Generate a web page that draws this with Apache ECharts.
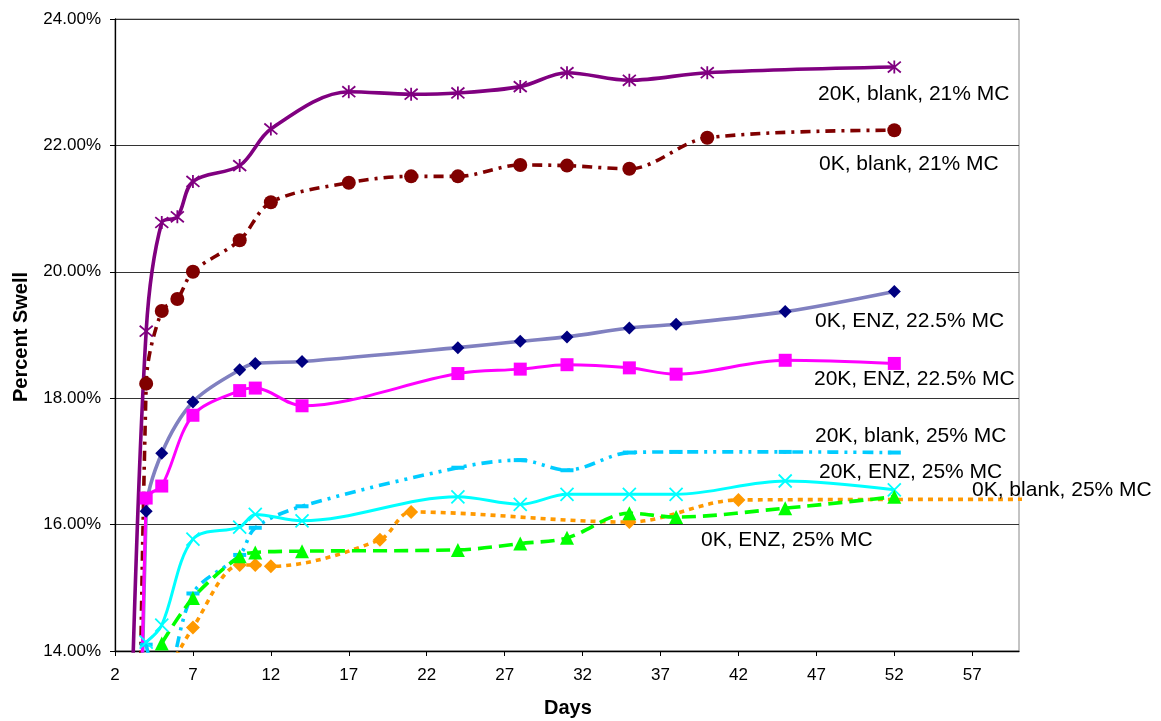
<!DOCTYPE html>
<html>
<head>
<meta charset="utf-8">
<script src="https://cdn.jsdelivr.net/npm/echarts@6/dist/echarts.min.js"></script>
<style>
html,body{margin:0;padding:0;background:#fff;}
#chart{width:1161px;height:721px;}
</style>
</head>
<body>
<div id="chart"></div>
<script>
// ---- data (day, percent swell) ----
const xTicks = [2, 7, 12, 17, 22, 27, 32, 37, 42, 47, 52, 57];
const yTicks = [14, 16, 18, 20, 22, 24];

const names = [
  '20K, blank, 21% MC',
  '0K, blank, 21% MC',
  '0K, ENZ, 22.5% MC',
  '20K, ENZ, 22.5% MC',
  '20K, blank, 25% MC',
  '20K, ENZ, 25% MC',
  '0K, blank, 25% MC',
  '0K, ENZ, 25% MC'
];

const days20Kb21 = [3, 4, 5, 6, 7, 10, 12, 17, 21, 24, 28, 31, 35, 40, 52];
const vals20Kb21 = [12.5, 19.06, 20.78, 20.87, 21.43, 21.68, 22.26, 22.85, 22.81, 22.83, 22.93, 23.15, 23.03, 23.15, 23.24];

const days0Kb21 = [3, 4, 5, 6, 7, 10, 12, 17, 21, 24, 28, 31, 35, 40, 52];
const vals0Kb21 = [0, 18.23, 19.38, 19.57, 20.0, 20.50, 21.10, 21.41, 21.51, 21.51, 21.69, 21.68, 21.63, 22.12, 22.24];

const days0KE225 = [3, 4, 5, 7, 10, 11, 14, 24, 28, 31, 35, 38, 45, 52];
const vals0KE225 = [0, 16.21, 17.13, 17.94, 18.45, 18.55, 18.58, 18.80, 18.90, 18.97, 19.11, 19.17, 19.37, 19.69];

const days20KE225 = [3, 4, 5, 7, 10, 11, 14, 24, 28, 31, 35, 38, 45, 52];
const vals20KE225 = [0, 16.42, 16.61, 17.73, 18.12, 18.16, 17.88, 18.39, 18.46, 18.53, 18.48, 18.38, 18.60, 18.55];

const days20Kb25 = [4, 5, 7, 10, 11, 14, 24, 28, 31, 35, 38, 45, 52];
const vals20Kb25 = [14.10, 13.3, 14.91, 15.52, 15.95, 16.29, 16.90, 17.02, 16.86, 17.14, 17.15, 17.15, 17.14];

const days20KE25 = [4, 5, 7, 10, 11, 14, 24, 28, 31, 35, 38, 45, 52];
const vals20KE25 = [14.14, 14.41, 15.77, 15.96, 16.16, 16.06, 16.44, 16.32, 16.48, 16.48, 16.48, 16.69, 16.55];

const days0Kb25 = [5, 7, 10, 11, 12, 19, 21, 35, 42, 61];
const vals0Kb25 = [13.5, 14.37, 15.36, 15.36, 15.34, 15.76, 16.20, 16.04, 16.39, 16.40];

const days0KE25 = [5, 7, 10, 11, 14, 24, 28, 31, 35, 38, 45, 52];
const vals0KE25 = [14.12, 14.84, 15.50, 15.56, 15.58, 15.60, 15.70, 15.79, 16.18, 16.12, 16.26, 16.44];

function pairs(d, v) { return d.map((x, i) => [x, v[i]]); }

const FONT = 'Liberation Sans, Arial, sans-serif';
const ASTER = 'path://M0,0L20,20M20,0L0,20M10,-2L10,22';
const XMARK = 'path://M0,0L20,20M20,0L0,20';

const chart = echarts.init(document.getElementById('chart'));

function mk(name, data, lineColor, width, dash, symbol, size, itemStyle, z) {
  return {
    name: name, type: 'line', data: data, smooth: 0.33, clip: true,
    symbol: symbol, symbolSize: size, showSymbol: true,
    lineStyle: { color: lineColor, width: width, type: dash, cap: 'butt' },
    itemStyle: itemStyle, z: z,
    emphasis: { disabled: true }
  };
}

const series = [
  mk(names[0], pairs(days20Kb21, vals20Kb21), '#800080', 3.6, 'solid', ASTER, 13,
     { color: 'rgba(0,0,0,0)', borderColor: '#800080', borderWidth: 1.8 }, 3),
  mk(names[1], pairs(days0Kb21, vals0Kb21), '#800000', 3.6, [10, 6, 3, 6], 'circle', 14,
     { color: '#800000', borderWidth: 0 }, 3),
  mk(names[2], pairs(days0KE225, vals0KE225), '#8080C0', 3.6, 'solid', 'diamond', 13,
     { color: '#000080', borderWidth: 0 }, 3),
  mk(names[3], pairs(days20KE225, vals20KE225), '#FF00FF', 3, 'solid', 'rect', 13,
     { color: '#FF00FF', borderWidth: 0 }, 3),
  mk(names[4], pairs(days20Kb25, vals20Kb25), '#00CCFF', 3.6, [11, 6, 3, 6, 3, 6], 'rect', [13, 4],
     { color: '#00CCFF', borderWidth: 0 }, 3),
  mk(names[5], pairs(days20KE25, vals20KE25), '#00FFFF', 3, 'solid', XMARK, 13,
     { color: 'rgba(0,0,0,0)', borderColor: '#00FFFF', borderWidth: 1.8 }, 3),
  mk(names[6], pairs(days0Kb25, vals0Kb25), '#FF9900', 3.6, [5, 5], 'diamond', 14,
     { color: '#FF9900', borderWidth: 0 }, 3),
  mk(names[7], pairs(days0KE25, vals0KE25), '#00FF00', 3.6, [14, 7], 'triangle', 14,
     { color: '#00FF00', borderWidth: 0 }, 3)
];

// annotation label positions (pixel layout)
const labelPos = [
  [818, 96], [819, 166], [815, 323], [814, 381],
  [815, 438], [819, 474], [972, 492], [701, 542]
];

const graphic = names.map((n, i) => ({
  type: 'text', left: labelPos[i][0], top: labelPos[i][1] - 12, z: 100,
  style: { text: n, font: '21px ' + FONT, fill: '#000' }
}));
graphic.push({
  type: 'text', left: 544, top: 698, z: 100,
  style: { text: 'Days', font: 'bold 20px ' + FONT, fill: '#000' }
});
graphic.push({
  type: 'text', x: 21, y: 337, rotation: Math.PI / 2, z: 100,
  style: { text: 'Percent Swell', font: 'bold 20px ' + FONT, fill: '#000', align: 'center', verticalAlign: 'middle' }
});

chart.setOption({
  animation: false,
  backgroundColor: '#fff',
  grid: { left: 115, top: 19, right: 142, bottom: 70, show: true, borderColor: '#888', borderWidth: 1, backgroundColor: 'transparent' },
  xAxis: {
    type: 'value', min: xTicks[0], max: 60, interval: 5,
    axisLine: { show: true, onZero: false, lineStyle: { color: '#000', width: 1.3 } },
    axisTick: { show: true, length: 5, lineStyle: { color: '#000' } },
    axisLabel: { show: true, color: '#000', fontSize: 17, fontFamily: FONT, margin: 16, showMaxLabel: false },
    splitLine: { show: false }
  },
  yAxis: {
    type: 'value', min: yTicks[0], max: yTicks[yTicks.length - 1], interval: 2,
    axisLine: { show: true, onZero: false, lineStyle: { color: '#000', width: 1.3 } },
    axisTick: { show: true, length: 5, lineStyle: { color: '#000' } },
    axisLabel: { color: '#000', fontSize: 17, fontFamily: FONT, margin: 14, formatter: v => v.toFixed(2) + '%' },
    splitLine: { show: true, lineStyle: { color: '#333', width: 1 } }
  },
  graphic: graphic,
  series: series
});
</script>
</body>
</html>
